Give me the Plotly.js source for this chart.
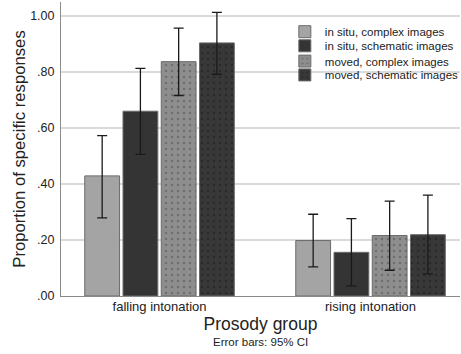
<!DOCTYPE html>
<html>
<head>
<meta charset="utf-8">
<script src="https://cdn.plot.ly/plotly-3.0.1.min.js"></script>
<style>html,body{margin:0;padding:0;background:#fff}#chart{width:461px;height:354px}</style>
</head>
<body>
<div id="chart"></div>
<script>
var categories = ['falling intonation', 'rising intonation'];
var seriesNames = ['in situ, complex images', 'in situ, schematic images', 'moved, complex images', 'moved, schematic images'];
var means = [
  [0.429, 0.198],
  [0.660, 0.156],
  [0.837, 0.216],
  [0.904, 0.219]
];
var ciUpper = [
  [0.573, 0.292],
  [0.813, 0.276],
  [0.957, 0.339],
  [1.013, 0.360]
];
var ciLower = [
  [0.279, 0.104],
  [0.506, 0.036],
  [0.716, 0.092],
  [0.792, 0.079]
];
var yTickVals = [0, 0.2, 0.4, 0.6, 0.8, 1.0];
var yTickText = ['.00', '.20', '.40', '.60', '.80', '1.00'];

var fills = ['#a4a4a4', '#343434', '#8e8e8e', '#383838'];
var dotColors = [null, null, '#505050', '#1c1c1c'];
var legendIds = ['legend', 'legend2', 'legend3', 'legend4'];
var legendY = [0.899, 0.851, 0.799, 0.752];

var traces = seriesNames.map(function (name, i) {
  var marker = {
    color: fills[i],
    line: {color: '#6a6a6a', width: 1}
  };
  if (dotColors[i]) {
    marker.pattern = {shape: '.', fgcolor: dotColors[i], bgcolor: fills[i], size: 6, solidity: 0.15, fillmode: 'overlay'};
  }
  return {
    type: 'bar',
    name: name,
    x: categories,
    y: means[i],
    legend: legendIds[i],
    marker: marker,
    error_y: {
      type: 'data',
      symmetric: false,
      array: ciUpper[i].map(function (u, j) { return u - means[i][j]; }),
      arrayminus: ciLower[i].map(function (l, j) { return means[i][j] - l; }),
      color: '#1a1a1a',
      thickness: 1.3,
      width: 5
    },
    hoverinfo: 'none'
  };
});

var font = 'Liberation Sans, Arial, Helvetica, sans-serif';
var layout = {
  width: 461,
  height: 354,
  margin: {l: 61, r: 1, t: 2, b: 58, autoexpand: false},
  paper_bgcolor: '#ffffff',
  plot_bgcolor: '#ffffff',
  barmode: 'group',
  bargap: 0.275,
  bargroupgap: 0.09,
  font: {family: font, color: '#222'},
  showlegend: true,
  xaxis: {
    type: 'category',
    autorange: false,
    range: [-0.467, 1.424],
    showgrid: false,
    showline: true,
    linecolor: '#8a8a8a',
    linewidth: 1,
    ticks: '',
    ticklabelstandoff: -2,
    tickfont: {size: 13, color: '#222'},
    title: {text: 'Prosody group', font: {size: 17.5, color: '#222'}, standoff: 5},
    zeroline: false
  },
  yaxis: {
    autorange: false,
    range: [0, 1.05],
    tickvals: yTickVals,
    ticktext: yTickText,
    showgrid: true,
    gridcolor: '#dadada',
    gridwidth: 1.5,
    showline: true,
    linecolor: '#8a8a8a',
    linewidth: 1,
    ticks: '',
    ticklabelstandoff: 3,
    zeroline: false,
    tickfont: {size: 12.5, color: '#222'},
    title: {text: 'Proportion of specific responses', font: {size: 16.7, color: '#222'}, standoff: 0}
  },
  annotations: [{
    text: 'Error bars: 95% CI',
    xref: 'paper', yref: 'paper',
    x: 0.5, y: -0.158,
    xanchor: 'center', yanchor: 'middle',
    showarrow: false,
    font: {size: 11.5, color: '#222', family: font}
  }]
};

legendIds.forEach(function (id, i) {
  layout[id] = {
    x: 0.561, y: legendY[i], xanchor: 'left', yanchor: 'middle',
    font: {size: 11.5, color: '#222', family: font},
    bgcolor: 'rgba(0,0,0,0)',
    itemwidth: 30
  };
});

Plotly.newPlot('chart', traces, layout, {displayModeBar: false, staticPlot: true});
</script>
</body>
</html>
